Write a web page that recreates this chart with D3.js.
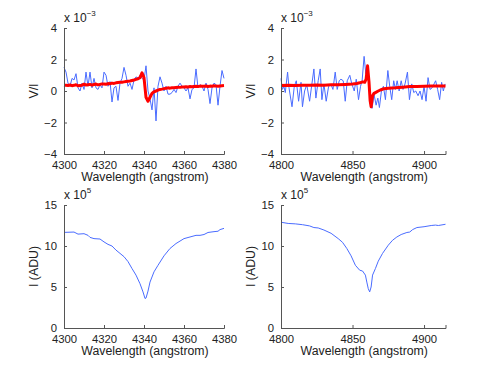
<!DOCTYPE html>
<html><head><meta charset="utf-8">
<script src="https://cdn.jsdelivr.net/npm/d3@7"></script>
<style>body{margin:0;background:#fff}svg{display:block}text{font-family:"Liberation Sans",Arial,sans-serif;fill:#222}</style>
</head><body><svg id="c" width="491" height="369"></svg>
<script>
// ---- Data (V/I in 1e-3, I in 1e5 ADU) ----
const tlWave = [4300,4301,4302,4303,4304,4305,4306,4307,4308,4309,4310,4311,4312,4313,4314,4315,4316,4317,4318,4319,4320,4321,4322,4323,4324,4325,4326,4327,4328,4329,4330,4331,4332,4333,4334,4335,4336,4337,4338,4339,4340,4341,4342,4343,4344,4345,4346,4347,4348,4349,4350,4351,4352,4353,4354,4355,4356,4357,4358,4359,4360,4361,4362,4363,4364,4365,4366,4367,4368,4369,4370,4371,4372,4373,4374,4375,4376,4377,4378,4379,4380];
const tlBlue = [1.5,1.2,0.5,0.3,0.8,0.7,1.1,0.2,0.0,0.5,0.1,1.2,0.3,1.2,0.2,0.8,0.2,0.1,0.4,0.2,1.2,1.0,0.3,0.6,-0.7,0.2,0.3,-0.6,0.5,0.8,1.5,1.0,0.3,0.5,0.1,0.7,0.9,0.8,1.0,0.8,0.7,1.6,0.0,-0.5,-1.2,0.2,-1.9,0.3,0.9,0.5,0.0,0.3,-0.2,-0.2,-0.1,0.1,-0.1,0.3,0.5,0.3,0.2,0.0,0.2,-0.5,0.1,0.2,1.4,0.2,0.4,0.3,0.0,0.5,0.1,-0.8,0.2,0.5,0.4,-0.9,0.3,1.3,0.8];
const tlRed = [0.37,0.36,0.35,0.38,0.34,0.36,0.40,0.33,0.35,0.37,0.43,0.38,0.40,0.42,0.37,0.41,0.44,0.39,0.42,0.45,0.45,0.43,0.47,0.46,0.50,0.48,0.52,0.54,0.55,0.56,0.58,0.60,0.62,0.64,0.67,0.70,0.74,0.78,0.85,1.15,0.85,-0.40,-0.65,-0.40,-0.15,-0.05,0.00,0.05,0.10,0.12,0.15,0.17,0.20,0.18,0.21,0.20,0.22,0.24,0.23,0.25,0.25,0.27,0.26,0.28,0.27,0.29,0.30,0.28,0.31,0.30,0.30,0.32,0.29,0.31,0.30,0.33,0.31,0.30,0.32,0.34,0.35];

const trWave = [4800,4801,4802,4803,4804.6,4805.6,4807.7,4809.3,4810.7,4812.3,4814,4815,4816.5,4818,4820,4823,4824.4,4826,4827.4,4828.6,4830,4831.6,4833.3,4835,4836.3,4837.9,4839.3,4840.7,4841.9,4843.5,4844.9,4846.3,4848.1,4849.5,4851.2,4852.6,4854.2,4855.6,4856.7,4858.1,4859.3,4860.2,4861.6,4862.6,4863.7,4865,4866.5,4867.7,4868.8,4870.2,4871.6,4873,4874.7,4876,4877.4,4878.8,4880,4881.2,4882.6,4884,4885.3,4886.7,4888.4,4889.8,4891.4,4892.8,4894.2,4895.8,4897.2,4898.6,4900,4901.4,4902.8,4904.2,4905.6,4907,4908.1,4909.5,4910.9,4912.3,4913.5,4914.7];
const trBlue = [0.8,0.1,0.3,-0.1,1.2,0.2,-1.0,0.3,0.65,-0.65,0.55,-1.0,0.0,0.4,-0.65,1.4,-0.45,0.65,1.4,-0.55,0.45,-0.65,0.3,0.4,0.1,1.2,0.1,0.65,0.75,0.65,-0.65,0.65,1.0,0.45,0.0,0.75,-0.55,0.3,0.65,2.2,1.1,1.5,0.2,-0.65,-1.1,-0.2,-0.9,-0.45,-1.05,0.0,0.3,-0.55,1.3,0.3,-0.55,0.65,0.1,0.65,0.0,0.65,0.1,0.45,1.2,-0.55,0.45,-0.1,0.0,-0.3,0.0,-0.55,0.3,-0.65,0.85,0.1,0.2,0.45,0.65,0.1,-0.55,0.55,0.0,0.45];
const trRedWave = [4800,4805,4810,4815,4820,4825,4830,4835,4840,4845,4850,4853,4855,4857,4858.5,4859.5,4860.5,4861.5,4862.3,4863,4864,4865,4866,4868,4870,4872,4875,4880,4885,4890,4895,4900,4905,4910,4915];
const trRed = [0.35,0.36,0.35,0.37,0.36,0.38,0.37,0.39,0.40,0.42,0.45,0.48,0.52,0.58,0.55,0.75,1.60,0.60,-0.60,-1.00,-0.30,-0.15,-0.10,0.00,0.08,0.15,0.18,0.20,0.24,0.28,0.29,0.30,0.31,0.32,0.32];

const blWave = [4300,4305,4307,4310,4312,4313,4315,4318,4320,4322,4324,4326,4328,4330,4332,4334,4336,4338,4339.5,4340.5,4341,4342,4343,4345,4347,4350,4353,4356,4360,4363,4366,4368,4370,4372,4375,4377,4378,4380];
const blInt = [11.66,11.7,11.45,11.5,11.3,11.05,10.9,10.85,10.5,10.2,10.0,9.5,9.1,8.7,8.1,7.25,6.45,5.4,4.4,3.6,3.65,4.5,5.6,6.85,7.65,8.8,9.7,10.3,10.9,11.1,11.3,11.3,11.4,11.65,11.75,11.8,12.0,12.15];

const brWave = [4800,4805,4810,4815,4820,4823,4826,4830,4835,4840,4843,4846,4849,4852,4855,4857,4859,4860,4861,4862,4863,4864,4866,4868,4871,4875,4878,4881,4884,4888,4890,4892,4895,4900,4905,4908,4910,4915];
const brInt = [12.9,12.75,12.7,12.6,12.45,12.25,12.2,11.95,11.55,10.9,10.45,9.7,8.8,7.65,7.05,6.95,6.45,5.6,4.8,4.4,5.0,6.45,7.25,8.15,9.1,10.1,10.7,11.1,11.4,11.65,11.7,12.0,12.25,12.35,12.5,12.55,12.5,12.65];

const xTicksL = [4300,4320,4340,4360,4380];
const xTicksR = [4800,4850,4900];
const yTicksTop = [-4,-2,0,2,4];
const yTicksBot = [0,5,10,15];

// ---- Drawing ----
const svg = d3.select("#c");
const fmt = v => (v < 0 ? "\u2212" + Math.abs(v) : String(v));

function panel(o) {
  const g = svg.append("g");
  const x = d3.scaleLinear().domain(o.xdom).range([o.x0, o.x1]);
  const y = d3.scaleLinear().domain(o.ydom).range([o.y1, o.y0]);
  const line = d3.line().x(d => x(d[0])).y(d => y(d[1]));
  o.series.forEach(s => {
    g.append("path").datum(d3.zip(s.x, s.y)).attr("d", line)
      .attr("fill", "none").attr("stroke", s.color).attr("stroke-width", s.w)
      .attr("stroke-linejoin", "round");
  });
  const xa = g.append("g").attr("transform", `translate(0,${o.y1})`)
    .call(d3.axisBottom(x).tickValues(o.xticks).tickSize(-3).tickPadding(7).tickFormat(d3.format("d")));
  const ya = g.append("g").attr("transform", `translate(${o.x0},0)`)
    .call(d3.axisLeft(y).tickValues(o.yticks).tickSize(-3).tickPadding(7).tickFormat(fmt));
  [xa, ya].forEach(a => {
    a.select(".domain").attr("stroke", "#555");
    a.selectAll(".tick line").attr("stroke", "#555");
    a.selectAll("text").attr("font-size", 11.3).attr("fill", "#222").attr("font-family", "Liberation Sans, Arial, sans-serif");
  });
  g.append("text").attr("x", (o.x0 + o.x1) / 2 + 1).attr("y", o.y1 + 27)
    .attr("text-anchor", "middle").attr("font-size", 12.3).text("Wavelength (angstrom)");
  g.append("text").attr("transform", `translate(${o.x0 - 26},${(o.y0 + o.y1) / 2}) rotate(-90)`)
    .attr("text-anchor", "middle").attr("font-size", 12.3).text(o.ylabel);
  const ex = g.append("text").attr("x", o.x0).attr("y", o.y0 - 6).attr("font-size", 12);
  ex.append("tspan").text("x 10");
  ex.append("tspan").attr("dy", -6).attr("font-size", 8).text(o.exp);
}

const blue = "#4a6cff", red = "#ff0000";
panel({x0:64, x1:224, y0:28, y1:154, xdom:[4300,4380], ydom:[-4,4], xticks:xTicksL, yticks:yTicksTop, ylabel:"V/I", exp:"\u22123",
  series:[{x:tlWave,y:tlBlue,color:blue,w:1},{x:tlWave,y:tlRed,color:red,w:3}]});
panel({x0:281, x1:445.5, y0:28, y1:154, xdom:[4800,4915], ydom:[-4,4], xticks:xTicksR, yticks:yTicksTop, ylabel:"V/I", exp:"\u22123",
  series:[{x:trWave,y:trBlue,color:blue,w:1},{x:trRedWave,y:trRed,color:red,w:3}]});
panel({x0:64, x1:224, y0:205, y1:328, xdom:[4300,4380], ydom:[0,15], xticks:xTicksL, yticks:yTicksBot, ylabel:"I (ADU)", exp:"5",
  series:[{x:blWave,y:blInt,color:blue,w:1}]});
panel({x0:281, x1:445.5, y0:205, y1:328, xdom:[4800,4915], ydom:[0,15], xticks:xTicksR, yticks:yTicksBot, ylabel:"I (ADU)", exp:"5",
  series:[{x:brWave,y:brInt,color:blue,w:1}]});
</script></body></html>
